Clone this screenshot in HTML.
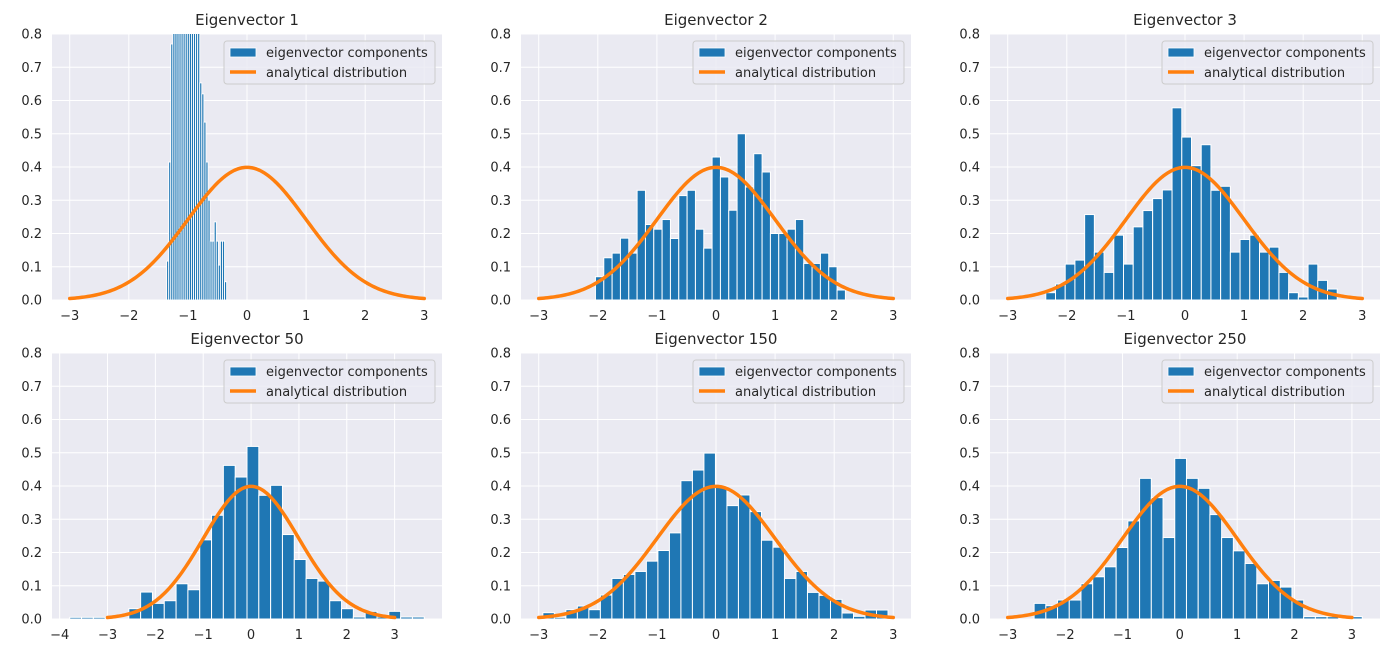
<!DOCTYPE html>
<html><head><meta charset="utf-8"><style>
body{margin:0;background:#fff;}
svg text{font-family:"DejaVu Sans","Liberation Sans",sans-serif;fill:#262626;}
</style></head><body>
<svg id="fig" width="1400" height="657" viewBox="0 0 1400 657" xmlns="http://www.w3.org/2000/svg"></svg>
<script>
const titles = ["Eigenvector 1","Eigenvector 2","Eigenvector 3","Eigenvector 50","Eigenvector 150","Eigenvector 250"];
const binStarts = [-1.36, -2.04, -2.356, -3.79, -2.93, -2.54];
const binWidths = [0.035, 0.141, 0.1644, 0.247, 0.1947, 0.2043];
const heights1 = [0.117,0.415,0.77,1.2,1.5,1.8,2.0,2.1,1.9,1.7,1.6,1.4,1.2,1.0,0.9,0.85,0.653,0.62,0.535,0.415,0.3,0.177,0.177,0.235,0.177,0.105,0.177,0.177,0.055,0.0];
const heights2 = [0.07,0.127,0.141,0.186,0.141,0.33,0.227,0.213,0.242,0.185,0.314,0.33,0.213,0.156,0.43,0.37,0.27,0.50,0.34,0.44,0.385,0.2,0.2,0.213,0.242,0.11,0.11,0.141,0.1,0.03];
const heights3 = [0.022,0.048,0.108,0.12,0.257,0.144,0.083,0.195,0.108,0.22,0.269,0.305,0.331,0.578,0.49,0.404,0.467,0.33,0.342,0.144,0.182,0.195,0.144,0.159,0.083,0.022,0.009,0.108,0.059,0.033];
const heights50 = [0.005,0.005,0.005,0,0,0.031,0.081,0.047,0.055,0.106,0.088,0.238,0.312,0.462,0.427,0.519,0.372,0.402,0.254,0.179,0.122,0.114,0.055,0.031,0.006,0.023,0.006,0.023,0.006,0.006];
const heights150 = [0.019,0.005,0.028,0.039,0.028,0.072,0.122,0.134,0.143,0.174,0.206,0.259,0.416,0.448,0.499,0.396,0.341,0.373,0.323,0.237,0.216,0.122,0.143,0.08,0.071,0.059,0.018,0.008,0.027,0.027];
const heights250 = [0.047,0.04,0.057,0.057,0.106,0.127,0.157,0.215,0.295,0.423,0.365,0.245,0.483,0.423,0.393,0.314,0.245,0.205,0.167,0.106,0.116,0.096,0.057,0.007,0.007,0.007,0.003,0.007];
const allHeights = [heights1,heights2,heights3,heights50,heights150,heights250];
const yTicks = [0,0.1,0.2,0.3,0.4,0.5,0.6,0.7,0.8];
const yTickLabels = ["0.0","0.1","0.2","0.3","0.4","0.5","0.6","0.7","0.8"];

const NS="http://www.w3.org/2000/svg";
const svg=document.getElementById('fig');
function mk(tag,attrs,parent){const e=document.createElementNS(NS,tag);for(const k in attrs)e.setAttribute(k,attrs[k]);(parent||svg).appendChild(e);return e;}

const lefts=[52,521,990], tops=[34,353], W=390, H=266;
for(let p=0;p<6;p++){
  const L=lefts[p%3], T=tops[Math.floor(p/3)];
  const hs=allHeights[p], b0=binStarts[p], bw=binWidths[p];
  const dmin=Math.min(-3,b0), dmax=Math.max(3,b0+bw*hs.length);
  const span=dmax-dmin, xmin=dmin-0.05*span, xmax=dmax+0.05*span;
  const X=v=>L+(v-xmin)/(xmax-xmin)*W;
  const Y=v=>T+H-(v/0.8)*H;
  const g=mk('g',{});
  
  
  const bg=mk('rect',{x:L,y:T,width:W,height:H,fill:'#eaeaf2'},g);
  
  
  const cp=mk('clipPath',{id:'cp'+p},g);mk('rect',{x:L,y:T,width:W,height:H},cp);
  yTicks.forEach((t,i)=>{
    const l=mk('line',{x1:L,x2:L+W,y1:Y(t),y2:Y(t),stroke:'#fff','stroke-width':1},g);
    
    
    const tx=mk('text',{x:L-10,y:Y(t)+4.5,'text-anchor':'end','font-size':13},g);tx.textContent=yTickLabels[i];
    
    
  });
  for(let t=Math.ceil(xmin);t<=Math.floor(xmax);t++){
    const l=mk('line',{x1:X(t),x2:X(t),y1:T,y2:T+H,stroke:'#fff','stroke-width':1},g);
    
    
    const tx=mk('text',{x:X(t),y:T+H+20,'text-anchor':'middle','font-size':13},g);tx.textContent=(t<0?'\u2212'+(-t):''+t);
    
    
  }
  const bars=mk('g',{'clip-path':'url(#cp'+p+')'},g);
  hs.forEach((h,i)=>{
    if(h<=0)return;
    const x0=X(b0+i*bw), x1=X(b0+(i+1)*bw);
    const r=mk('rect',{x:x0,y:Y(h),width:x1-x0,height:Y(0)-Y(h),fill:'#1f77b4',stroke:'#fff','stroke-width':p==0?0.9:1},bars);
    
    
  });
  let d='';
  for(let i=0;i<=200;i++){const v=-3+6*i/200;const y=Math.exp(-v*v/2)/Math.sqrt(2*Math.PI);d+=(i?'L':'M')+X(v).toFixed(2)+','+Y(y).toFixed(2);}
  const c=mk('path',{d:d,fill:'none',stroke:'#ff7f0e','stroke-width':3.5,'stroke-linecap':'round'},g);
  
  
  const tt=mk('text',{x:L+W/2,y:T-9,'text-anchor':'middle','font-size':15},g);tt.textContent=titles[p];
  
  
  const lg=mk('g',{},g);
  
  
  mk('rect',{x:L+W-218,y:T+7,width:211,height:43,rx:3,fill:'#eaeaf2',stroke:'#cccccc','stroke-width':1,'fill-opacity':0.8},lg);
  mk('rect',{x:L+W-212,y:T+14,width:26,height:9,fill:'#1f77b4',stroke:'#fff','stroke-width':0.8},lg);
  const t1=mk('text',{x:L+W-176,y:T+23,'font-size':13},lg);t1.textContent='eigenvector components';
  
  
  mk('line',{x1:L+W-212,x2:L+W-186,y1:T+38,y2:T+38,stroke:'#ff7f0e','stroke-width':3.5},lg);
  const t2=mk('text',{x:L+W-176,y:T+43,'font-size':13},lg);t2.textContent='analytical distribution';
  
  
}
</script>
</body></html>
